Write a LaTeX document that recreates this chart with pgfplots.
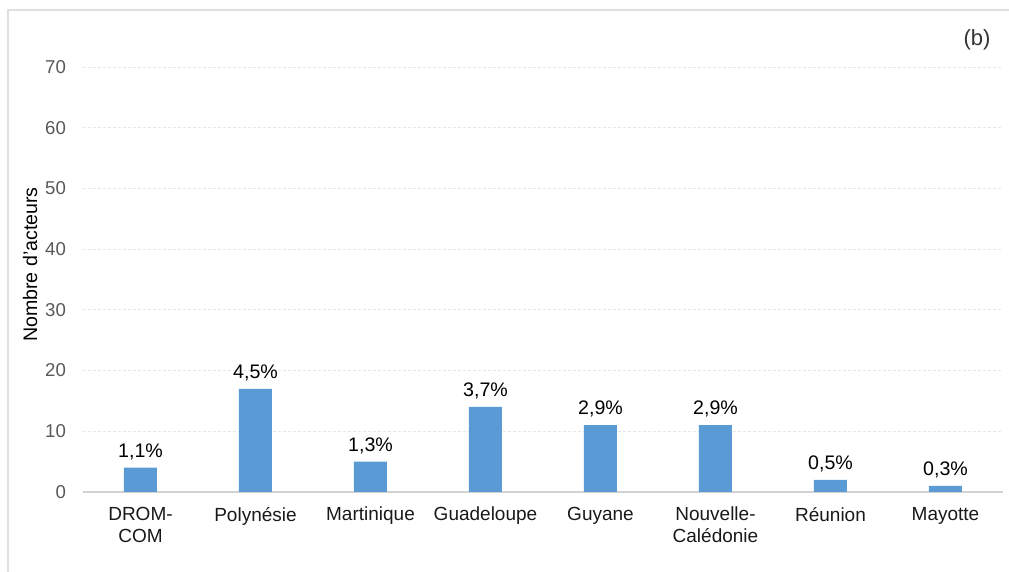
\documentclass[border=0pt]{standalone}
\usepackage{pgfplots}
\pgfplotsset{compat=1.18}
\usepackage{fontspec}
\setmainfont{Liberation Sans}

\definecolor{barblue}{HTML}{5B9BD5}
\definecolor{ticklbl}{HTML}{595959}
\definecolor{gridc}{HTML}{E6E6E6}

\begin{document}
\begin{tikzpicture}
\useasboundingbox (0,0) rectangle (504.5pt,286pt);
% outer frame of the figure
\draw[gray!25, line width=0.8pt] (4pt,0) -- (4pt,281pt) -- (504.5pt,281pt);
\node[font=\fontsize{11}{13}\selectfont, text=black!80] at (488.5pt,266pt) {(b)};

\begin{axis}[
    at={(41.5pt,40pt)}, anchor=south west,
    scale only axis,
    width=460pt, height=212.5pt,
    ybar, bar width=16.5pt,
    xmin=-0.5, xmax=7.5,
    ymin=0, ymax=70,
    xtick=data,
    xticklabels={{DROM-\\COM},Polynésie,Martinique,Guadeloupe,Guyane,{Nouvelle-\\Calédonie},Réunion,Mayotte},
    ytick={0,10,...,70},
    /pgf/number format/assume math mode=true,
    major tick length=0pt,
    axis line style={draw=none},
    ymajorgrids=true,
    grid style={dash pattern=on 1.5pt off 1pt, gridc, line width=0.5pt},
    extra y ticks={0},
    extra y tick labels={},
    extra y tick style={grid style={solid, gray!35, line width=0.8pt}},
    xticklabel style={align=center, anchor=north, yshift=-4pt, text=black!90,
        font=\fontsize{9.5}{11}\selectfont},
    yticklabel style={text=ticklbl, xshift=-5pt, font=\fontsize{9.3}{11}\selectfont},
    ylabel={Nombre d'acteurs},
    ylabel style={at={(axis description cs:-0.0576,0.535)}, anchor=center,
        font=\fontsize{9.8}{11}\selectfont, text=black},
    nodes near coords,
    point meta=explicit symbolic,
    every node near coord/.append style={font=\fontsize{9.8}{11}\selectfont,
        text=black, yshift=0.5pt},
]
\addplot[fill=barblue, draw=none] table[meta=lbl] {
x y lbl
0 4 1,1\%
1 17 4,5\%
2 5 1,3\%
3 14 3,7\%
4 11 2,9\%
5 11 2,9\%
6 2 0,5\%
7 1 0,3\%
};
\end{axis}
\end{tikzpicture}
\end{document}
